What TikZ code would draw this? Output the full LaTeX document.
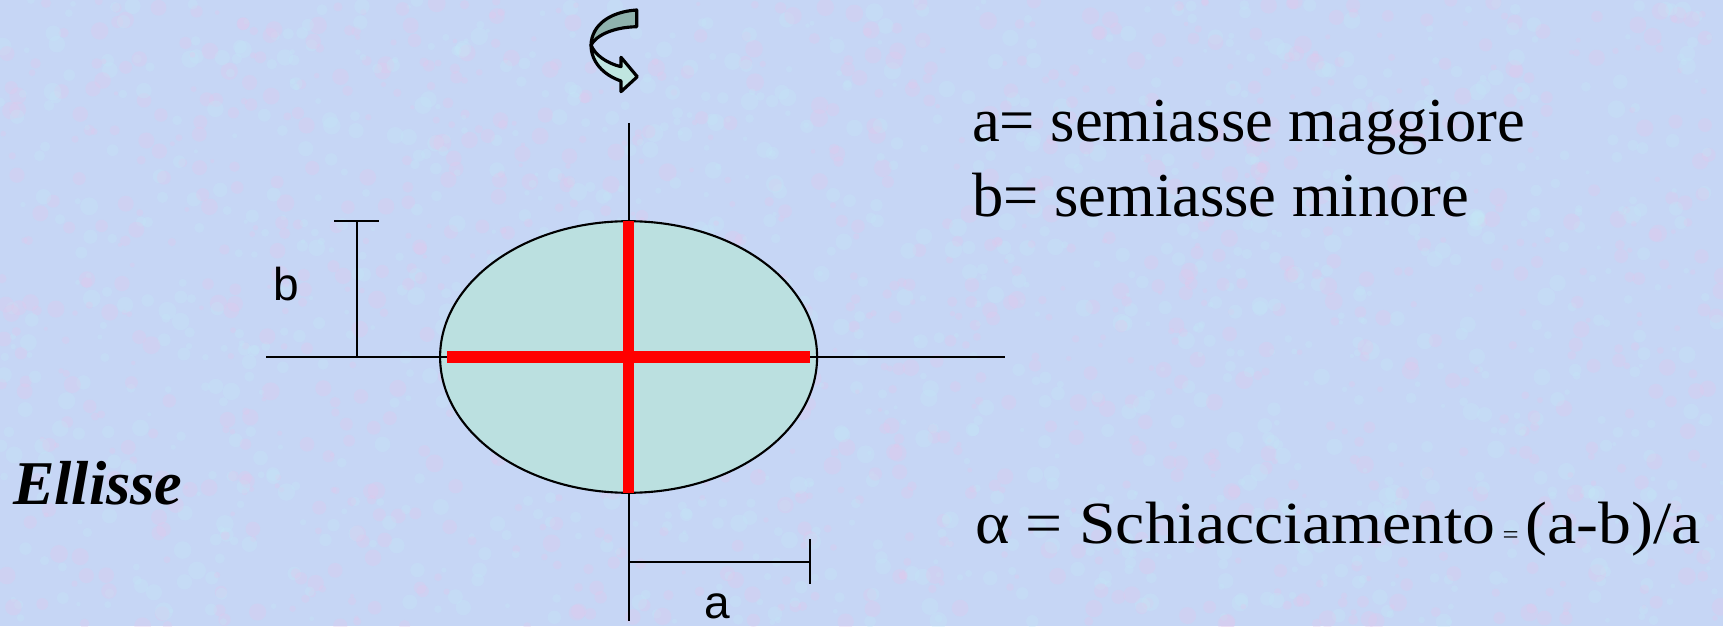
\documentclass[tikz,border=0pt]{standalone}
\usepackage{fontspec}
\setmainfont{Liberation Serif}
\newfontfamily\labelfont{Liberation Sans}
\newfontfamily\widefont[FakeStretch=1.1]{Liberation Serif}
\usetikzlibrary{positioning}
\definecolor{paper}{RGB}{198,214,245}
\definecolor{speckpink}{RGB}{226,200,236}
\definecolor{speckcyan}{RGB}{196,232,246}
\definecolor{ellfill}{RGB}{187,224,224}
\definecolor{arrowdark}{RGB}{143,178,173}
\definecolor{arrowlight}{RGB}{192,230,224}

\begin{document}
\begin{tikzpicture}[line width=0.6pt,
  axis/.style={black, line width=0.6pt},
  semiaxis/.style={red, line width=3.2pt},
  speck/.style={opacity=0.3},
  sanslabel/.style={font=\labelfont\fontsize{13.1}{15}\selectfont, inner sep=0pt, anchor=base},
  serifnote/.style={font=\fontsize{17.8}{21}\selectfont, inner sep=0pt, anchor=base west}]

  % background
  \fill[paper] (0,0) rectangle (17.23,6.26);
  \useasboundingbox (0,0) rectangle (17.23,6.26);
  \begin{scope}
    \clip (0,0) rectangle (17.23,6.26);
    \pgfmathsetseed{42}
    \foreach \i in {1,...,1200} {
      \fill[speckpink, speck] (17.23*rnd, 6.26*rnd) circle (0.02+0.07*rnd);
      \fill[speckcyan, speck] (17.23*rnd, 6.26*rnd) circle (0.02+0.07*rnd);
    }
  \end{scope}

  % ellipse and axes
  \coordinate (O) at (6.286,2.69);
  \fill[ellfill] (O) ellipse[x radius=1.885, y radius=1.358];
  \draw[axis] (2.66,2.69) -- (10.05,2.69);
  \draw[axis] (6.286,5.03) -- (6.286,0.05);
  \draw[black] (O) ellipse[x radius=1.885, y radius=1.358];

  % semiaxes in red
  \draw[semiaxis] (4.47,2.69) -- (8.10,2.69);
  \draw[semiaxis] (6.286,4.048) -- (6.286,1.332);

  % b measure
  \draw[axis] (3.57,2.69) -- (3.57,4.048);
  \draw[axis] (3.34,4.048) -- (3.79,4.048);
  \node[sanslabel] (blabel) at (2.86,3.26) {b};

  % a measure
  \draw[axis] (6.286,0.643) -- (8.10,0.643);
  \draw[axis] (8.10,0.867) -- (8.10,0.42);
  \node[sanslabel] (alabel) at (7.17,0.08) {a};

  % rotation arrow
  \draw[fill=arrowdark, line width=0.9pt, line join=round]
    (6.367,6.16) .. controls (6.10,6.143) and (5.917,6.01) .. (5.91,5.81)
    .. controls (5.967,5.91) and (6.133,5.987) .. (6.367,5.993) -- cycle;
  \draw[fill=arrowlight, line width=0.9pt, line join=round]
    (5.91,5.81) .. controls (5.91,5.643) and (6.033,5.51) .. (6.21,5.45)
    -- (6.21,5.343) -- (6.373,5.493) -- (6.21,5.687) -- (6.21,5.593)
    .. controls (6.067,5.627) and (5.95,5.71) .. (5.91,5.81) -- cycle;

  % texts
  \node[serifnote] (defa) at (9.71,4.843) {a= semiasse maggiore};
  \node[serifnote, below=0.75 of defa.base west, anchor=base west] (defb) {b= semiasse minore};
  \node[serifnote, font=\bfseries\itshape\fontsize{17.7}{21}\selectfont] (title) at (0.12,1.22) {Ellisse};
  \node[inner sep=0pt, anchor=base west, font=\widefont\fontsize{17}{20}\selectfont] (flat) at (9.74,0.827)
    {α = Schiacciamento{\fontsize{7.4}{9}\selectfont\ =\ }(a-b)/a};
\end{tikzpicture}
\end{document}
